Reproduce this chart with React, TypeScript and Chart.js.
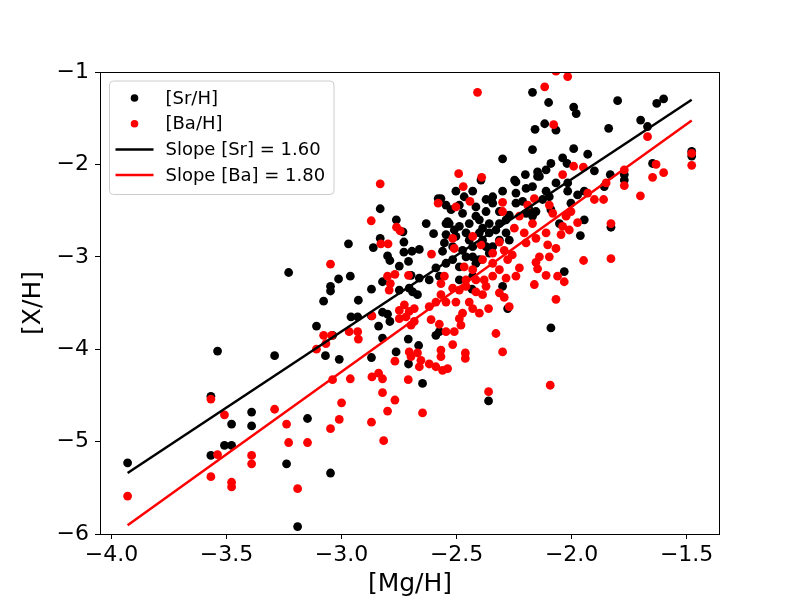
import { useEffect, useRef } from 'react';
import { Chart, registerables } from 'chart.js';

Chart.register(...registerables);

// [Sr/H] against [Mg/H]
const srMgH = [
  -3.930, -3.568, -3.391, -3.478, -3.391, -3.509, -3.478, -3.568, -3.148, -3.239, -3.048, -3.191,
  -3.230, -3.048, -3.048, -3.013, -3.078, -3.109, -3.039, -3.539, -3.291, -3.070, -3.010,
  -2.832, -2.580, -2.762, -2.632, -2.733, -2.600, -2.970, -2.862, -2.832, -2.729, -2.800, -2.790,
  -2.729, -2.694, -2.662, -2.709, -2.749, -2.553, -2.561, -2.539, -2.546, -2.962, -2.822, -2.619,
  -2.575, -2.698, -2.662, -2.590, -2.870,
  -2.927, -2.959, -2.930, -2.870, -2.822, -2.800, -2.839, -2.790, -2.822, -2.749, -2.706, -2.670,
  -2.691, -2.710, -2.665, -2.763, -2.870, -2.709, -2.590, -2.575, -2.648,
  -2.503, -2.467, -2.430, -2.394, -2.343, -2.300, -2.242, -2.198, -2.170, -2.111, -2.068,
  -2.524, -2.474, -2.416, -2.372, -2.343, -2.314, -2.242, -2.213, -2.198, -2.155, -2.126, -2.097, -2.090,
  -2.532, -2.488, -2.445, -2.401, -2.387, -2.358, -2.314, -2.285, -2.271, -2.170, -2.053,
  -2.503, -2.459, -2.401, -2.358, -2.314, -2.271, -2.517, -2.474, -2.430, -2.372, -2.285,
  -2.517, -2.488, -2.430, -2.358, -2.488, -2.430, -2.300,
  -2.433, -2.278, -2.090,
  -2.170, -2.100, -1.991, -1.980, -1.800, -1.630, -1.600, -1.700, -1.670, -1.839, -2.117, -2.159,
  -2.068, -2.170, -1.991, -1.930, -2.300, -2.039, -2.090, -2.020, -2.148, -2.111, -2.148, -2.201,
  -2.248, -1.901, -1.832, -1.771, -1.771, -1.648, -1.478, -1.478,
  -2.017, -2.017, -1.974, -1.945, -2.003, -1.858, -1.945, -1.962, -1.829, -2.032,
  -2.361,
  -2.568, -2.546, -2.416, -2.329, -2.445, -2.387, -2.343, -2.459, -2.401, -2.546, -2.372, -2.546,
  -2.488, -2.242, -2.184, -2.140, -2.510, -2.416,
];
const srH = [
  -5.23, -4.51, -4.68, -4.81, -4.83, -5.04, -5.04, -5.15, -4.75, -5.24, -5.34, -5.92,
  -3.17, -3.32, -3.37, -3.24, -3.48, -3.75, -3.85, -4.02, -4.07, -4.07, -4.11,
  -2.48, -2.37, -2.60, -2.64, -2.73, -2.75, -2.86, -2.90, -2.80, -2.84, -2.99, -3.04,
  -2.95, -2.94, -2.92, -3.05, -3.10, -2.85, -2.94, -2.62, -2.76, -3.21, -3.27, -3.25,
  -3.21, -3.20, -3.23, -3.12, -3.35,
  -3.47, -3.65, -3.65, -3.64, -3.60, -3.62, -3.75, -3.70, -3.88, -3.36, -3.34, -3.41,
  -3.38, -3.89, -3.96, -4.03, -4.09, -4.16, -3.85, -3.81, -4.37,
  -2.29, -2.35, -2.29, -2.17, -2.35, -2.29, -2.19, -2.26, -2.24, -2.29, -2.20,
  -2.49, -2.53, -2.46, -2.51, -2.42, -2.51, -2.42, -2.40, -2.53, -2.51, -2.38, -2.35, -2.49,
  -2.64, -2.67, -2.64, -2.60, -2.69, -2.64, -2.64, -2.60, -2.55, -2.56, -2.64,
  -2.78, -2.74, -2.74, -2.74, -2.82, -2.82, -2.89, -2.93, -2.89, -2.89, -2.74,
  -3.03, -3.11, -3.00, -2.96, -3.25, -3.21, -3.32,
  -3.35, -3.56, -3.77,
  -1.22, -1.33, -1.38, -1.45, -1.31, -1.34, -1.29, -1.52, -1.59, -1.61, -1.56, -1.62,
  -1.63, -1.84, -1.83, -1.89, -1.94, -1.93, -1.99, -1.99, -2.08, -2.06, -2.13, -2.11,
  -2.17, -2.07, -2.11, -2.11, -2.17, -1.99, -1.86, -1.91,
  -2.20, -2.29, -2.33, -2.29, -2.42, -2.24, -2.60, -2.77, -2.68, -3.16,
  -4.56,
  -2.37, -2.64, -2.56, -2.71, -2.82, -2.82, -2.89, -3.00, -3.03, -3.07, -2.38, -2.44,
  -2.44, -2.31, -2.49, -2.13, -2.71, -3.07,
];

// [Ba/H] against [Mg/H]
const baMgH = [
  -3.930, -3.568, -3.509, -3.291, -3.239, -3.230, -3.148, -3.048, -3.010, -3.000, -3.539, -3.391,
  -3.391, -3.568, -3.478, -3.478, -3.191,
  -3.048, -3.078, -3.043, -3.068, -3.109, -3.039,
  -2.832, -2.580, -2.871, -2.761, -2.745, -2.829, -2.798, -2.609, -2.709, -2.800, -2.768, -2.788,
  -2.553, -2.568,
  -2.793, -2.568, -2.590, -2.619, -2.546, -2.868, -2.749, -2.727, -2.706, -2.749, -2.720, -2.684,
  -2.684, -2.698, -2.611, -2.575, -2.967, -2.927, -2.930, -2.546, -2.706, -2.670, -2.655, -2.698,
  -2.768, -2.662, -2.619, -2.590, -2.561, -2.568, -2.568, -2.868, -2.839, -2.822, -2.962, -2.710,
  -2.822, -2.539, -2.768, -2.800, -2.870, -2.817, -2.648, -2.361, -2.093,
  -2.471, -2.442, -2.503, -2.300, -2.300, -2.227, -2.162, -2.191, -2.517, -2.510, -2.394, -2.314,
  -2.293, -2.249, -2.206, -2.198, -2.155, -2.111, -2.104, -2.140, -2.097, -2.039, -2.024,
  -2.467, -2.430, -2.387, -2.343, -2.314, -2.278, -2.227, -2.148, -2.111, -2.061, -2.032, -2.162,
  -2.242, -2.285, -2.343, -2.380, -2.416, -2.459, -2.372,
  -2.517, -2.488, -2.459, -2.416, -2.387, -2.503, -2.445, -2.430, -2.474, -2.488, -2.481, -2.510,
  -2.517, -2.401, -2.361, -2.314, -2.293, -2.271, -2.462, -2.462, -2.329, -2.300, -2.068,
  -2.409, -2.117, -2.017, -2.068, -2.078, -1.670, -1.478, -1.478, -1.633, -1.600, -1.648, -1.771,
  -1.991, -1.949, -2.039, -2.491, -2.391, -1.850, -1.771,
  -1.930, -1.901, -1.861, -1.701, -2.003, -2.010, -1.974, -1.829, -1.948, -1.829,
  -2.097, -2.082, -2.430, -2.343, -2.258, -2.170, -2.068, -2.046, -2.155,
];
const baH = [
  -5.59, -4.54, -4.71, -4.65, -4.81, -5.01, -5.01, -4.86, -4.76, -4.58, -5.14, -5.15,
  -5.24, -5.38, -5.44, -5.49, -5.51,
  -3.08, -3.85, -3.85, -3.94, -4.00, -4.33,
  -2.21, -2.42, -2.61, -2.68, -2.72, -2.86, -2.86, -2.97, -3.20, -3.21, -3.19, -3.29,
  -3.21, -3.29,
  -3.36, -3.41, -3.49, -3.54, -3.49, -3.64, -3.58, -3.52, -3.59, -3.67, -3.65, -3.56,
  -3.70, -3.74, -3.68, -3.73, -3.81, -3.89, -3.81, -3.81, -4.03, -4.04, -4.12, -4.08,
  -4.13, -4.19, -4.16, -4.19, -4.23, -4.08, -4.01, -4.30, -4.26, -4.32, -4.32, -4.33,
  -4.47, -4.21, -4.55, -4.67, -4.79, -4.99, -4.69, -4.46, -4.39,
  -2.24, -2.40, -2.46, -2.41, -2.51, -2.56, -2.37, -2.44, -2.80, -2.91, -2.87, -2.84,
  -2.93, -2.69, -2.74, -2.85, -2.80, -2.74, -2.87, -3.00, -3.00, -2.67, -2.56,
  -3.11, -3.14, -3.03, -3.07, -3.14, -3.03, -3.12, -3.13, -3.20, -3.21, -3.27, -3.30,
  -3.21, -3.23, -3.21, -3.25, -3.25, -3.25, -3.32,
  -3.34, -3.36, -3.32, -3.38, -3.41, -3.49, -3.49, -3.56, -3.61, -3.67, -3.74, -3.81,
  -3.95, -3.61, -3.56, -3.39, -3.44, -3.54, -4.04, -4.10, -3.83, -4.03, -3.46,
  -1.22, -1.16, -1.05, -0.99, -1.57, -1.70, -1.88, -2.01, -2.00, -2.09, -2.14, -2.06,
  -2.02, -2.03, -2.11, -2.10, -2.14, -2.20, -2.23,
  -2.31, -2.38, -2.38, -2.34, -2.51, -2.71, -2.63, -2.64, -3.04, -3.02,
  -2.44, -2.53, -2.78, -2.96, -2.98, -2.64, -2.91, -2.76, -3.06,
];

// fitted lines, end points
const fitMgH = [-3.93, -1.478];
const srFitH = [-5.34, -1.3];
const baFitH = [-5.905, -1.524];
const srSlope = 1.6;
const baSlope = 1.8;

const xTickValues = [-4, -3.5, -3, -2.5, -2, -1.5];
const yTickValues = [-6, -5, -4, -3, -2, -1];

const FONT = 'DejaVu Sans';

const fmt = (v: number, digits: number) =>
  (v < 0 ? '\u2212' : '') + Math.abs(v).toFixed(digits);

const toPoints = (xs: number[], ys: number[]) => xs.map((x, i) => ({ x, y: ys[i] }));

// black frame round the plot area, like a matplotlib axes box
const framePlugin = {
  id: 'frame',
  afterDatasetsDraw(chart: any) {
    const { ctx, chartArea } = chart;
    ctx.save();
    ctx.strokeStyle = '#000';
    ctx.lineWidth = 1;
    ctx.strokeRect(chartArea.left + 0.5, chartArea.top + 0.5, chartArea.width - 1, chartArea.height);
    ctx.restore();
  },
};

// legend box in the upper left corner of the plot area
const insideLegend = {
  id: 'insideLegend',
  afterDraw(chart: any) {
    const { ctx, chartArea } = chart;
    const x0 = chartArea.left + 9.5;
    const y0 = chartArea.top + 9;
    const w = 224.5;
    const h = 113.5;
    ctx.save();
    ctx.beginPath();
    ctx.roundRect(x0, y0, w, h, 4);
    ctx.fillStyle = 'rgba(255,255,255,0.8)';
    ctx.fill();
    ctx.strokeStyle = '#cccccc';
    ctx.lineWidth = 1;
    ctx.stroke();

    ctx.font = `18px "${FONT}"`;
    ctx.textBaseline = 'middle';
    ctx.textAlign = 'left';
    chart.data.datasets.forEach((ds: any, i: number) => {
      const cy = y0 + 17 + i * 25.7;
      if (ds.showLine) {
        ctx.strokeStyle = ds.borderColor;
        ctx.lineWidth = 2.5;
        ctx.beginPath();
        ctx.moveTo(x0 + 6, cy);
        ctx.lineTo(x0 + 44, cy);
        ctx.stroke();
      } else {
        ctx.fillStyle = ds.backgroundColor;
        ctx.beginPath();
        ctx.arc(x0 + 25, cy, 3.8, 0, Math.PI * 2);
        ctx.fill();
      }
      ctx.fillStyle = '#000';
      ctx.fillText(ds.label, x0 + 56, cy + 1);
    });
    ctx.restore();
  },
};

export default function App() {
  const canvasRef = useRef<HTMLCanvasElement>(null);

  useEffect(() => {
    document.body.style.margin = '0';
    if (!canvasRef.current) return;

    const chart = new Chart(canvasRef.current, {
      type: 'scatter',
      data: {
        datasets: [
          {
            label: '[Sr/H]',
            data: toPoints(srMgH, srH),
            backgroundColor: '#000000',
            borderWidth: 0,
            pointRadius: 4.4,
            order: 4,
            clip: 0,
          },
          {
            label: '[Ba/H]',
            data: toPoints(baMgH, baH),
            backgroundColor: '#ff0000',
            borderWidth: 0,
            pointRadius: 4.4,
            order: 3,
            clip: 0,
          },
          {
            label: `Slope [Sr] = ${srSlope.toFixed(2)}`,
            data: toPoints(fitMgH, srFitH),
            showLine: true,
            borderColor: '#000000',
            backgroundColor: '#000000',
            borderWidth: 2.5,
            pointRadius: 0,
            order: 2,
          },
          {
            label: `Slope [Ba] = ${baSlope.toFixed(2)}`,
            data: toPoints(fitMgH, baFitH),
            showLine: true,
            borderColor: '#ff0000',
            backgroundColor: '#ff0000',
            borderWidth: 2.5,
            pointRadius: 0,
            order: 1,
          },
        ],
      },
      options: {
        responsive: true,
        maintainAspectRatio: false,
        animation: false,
        layout: { padding: { top: 72, right: 80, left: 0, bottom: 0 } },
        plugins: {
          legend: { display: false },
          tooltip: { enabled: false },
        },
        scales: {
          x: {
            type: 'linear',
            min: -4.05,
            max: -1.355,
            afterFit: (scale: any) => {
              scale.height = 66;
            },
            afterBuildTicks: (scale: any) => {
              scale.ticks = xTickValues.map((value) => ({ value }));
            },
            border: { display: false },
            grid: {
              drawOnChartArea: false,
              drawTicks: true,
              tickLength: 5,
              color: '#000',
              lineWidth: 1,
            },
            ticks: {
              color: '#000',
              font: { family: FONT, size: 22 },
              padding: 3,
              autoSkip: false,
              maxRotation: 0,
              callback: (v: any) => fmt(Number(v), 1),
            },
            title: {
              display: true,
              text: '[Mg/H]',
              color: '#000',
              font: { family: FONT, size: 25 },
              padding: { top: 0, bottom: 1 },
            },
          },
          y: {
            type: 'linear',
            min: -6,
            max: -1,
            afterFit: (scale: any) => {
              scale.width = 100;
            },
            afterBuildTicks: (scale: any) => {
              scale.ticks = yTickValues.map((value) => ({ value }));
            },
            border: { display: false },
            grid: {
              drawOnChartArea: false,
              drawTicks: true,
              tickLength: 5,
              color: '#000',
              lineWidth: 1,
            },
            ticks: {
              color: '#000',
              font: { family: FONT, size: 22 },
              padding: 6,
              callback: (v: any) => fmt(Number(v), 0),
            },
            title: {
              display: true,
              text: '[X/H]',
              color: '#000',
              font: { family: FONT, size: 25 },
              padding: { top: 18, bottom: 0 },
            },
          },
        },
      },
      plugins: [framePlugin, insideLegend],
    });

    return () => {
      chart.destroy();
    };
  }, []);

  return (
    <div style={{ width: 800, height: 600, position: 'relative', background: '#fff' }}>
      <canvas ref={canvasRef} />
    </div>
  );
}
